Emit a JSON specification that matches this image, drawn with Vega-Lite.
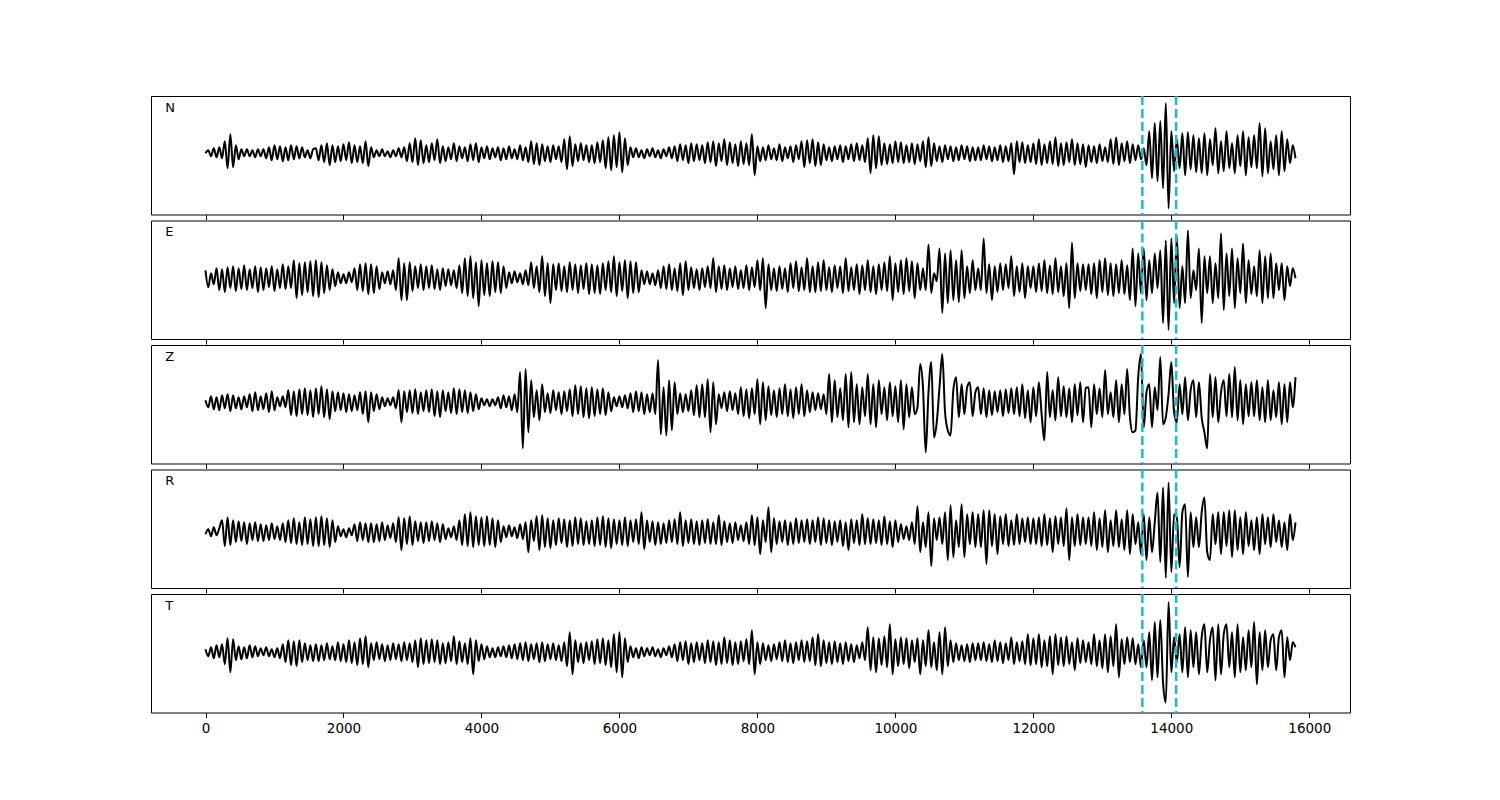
{
"$schema": "https://vega.github.io/schema/vega-lite/v6.json",
"padding": {"left": 150, "top": 94, "right": 0, "bottom": 0},
"background": "white",
"bounds": "flush",
"spacing": 5.5,
"config": {"view": {"stroke": "black", "strokeWidth": 1}, "axis": {"grid": false}, "font": "DejaVu Sans"},
"vconcat": [
{"width": 1199, "height": 118.5, "layer": [
 {"data": {"values": "t,v\n0,0\n40,3\n80,-3\n120,5\n160,-4\n200,6\n240,-5\n280,12\n320,-15\n360,19\n400,-14\n440,8\n480,-6\n520,4\n560,-3\n600,4\n640,-3\n680,3\n720,-4\n760,4\n800,-3\n840,4\n880,-5\n920,6\n960,-7\n1000,8\n1040,-6\n1080,7\n1120,-8\n1160,6\n1200,-7\n1240,8\n1280,-6\n1320,7\n1360,-5\n1400,6\n1440,-4\n1480,3\n1520,-5\n1560,4\n1600,5\n1640,-7\n1680,8\n1720,-9\n1760,10\n1800,-12\n1840,8\n1880,-9\n1920,7\n1960,-8\n2000,9\n2040,-7\n2080,11\n2120,-10\n2160,8\n2200,-9\n2240,7\n2280,-10\n2320,12\n2360,-13\n2400,6\n2440,-4\n2480,3\n2520,-3\n2560,4\n2600,-3\n2640,2\n2680,-4\n2720,3\n2760,-3\n2800,5\n2840,-4\n2880,6\n2920,-8\n2960,10\n3000,-9\n3040,15\n3080,-12\n3120,13\n3160,-10\n3200,8\n3240,-9\n3280,10\n3320,-7\n3360,14\n3400,-10\n3440,7\n3480,-8\n3520,6\n3560,-6\n3600,10\n3640,-8\n3680,7\n3720,-5\n3760,6\n3800,-8\n3840,9\n3880,-7\n3920,10\n3960,-9\n4000,6\n4040,-5\n4080,7\n4120,-6\n4160,5\n4200,-4\n4240,6\n4280,-7\n4320,5\n4360,-6\n4400,7\n4440,-5\n4480,4\n4520,-6\n4560,8\n4600,-7\n4640,6\n4680,-9\n4720,12\n4760,-11\n4800,10\n4840,-12\n4880,9\n4920,-8\n4960,7\n5000,-9\n5040,8\n5080,-6\n5120,7\n5160,-9\n5200,14\n5240,-16\n5280,17\n5320,-13\n5360,9\n5400,-8\n5440,10\n5480,-7\n5520,8\n5560,-9\n5600,8\n5640,-10\n5680,11\n5720,-9\n5760,13\n5800,-15\n5840,16\n5880,-17\n5920,18\n5960,-14\n6000,21\n6040,-19\n6080,15\n6120,-12\n6160,6\n6200,-4\n6240,5\n6280,-4\n6320,3\n6360,-5\n6400,4\n6440,-3\n6480,5\n6520,-4\n6560,3\n6600,-5\n6640,4\n6680,-3\n6720,6\n6760,-5\n6800,7\n6840,-8\n6880,9\n6920,-7\n6960,8\n7000,-10\n7040,10\n7080,-8\n7120,9\n7160,-7\n7200,8\n7240,-10\n7280,11\n7320,-9\n7360,12\n7400,-13\n7440,10\n7480,-8\n7520,14\n7560,-12\n7600,11\n7640,-10\n7680,9\n7720,-13\n7760,12\n7800,-11\n7840,10\n7880,-12\n7920,19\n7960,-22\n8000,7\n8040,-8\n8080,6\n8120,-7\n8160,8\n8200,-6\n8240,5\n8280,-7\n8320,9\n8360,-8\n8400,6\n8440,-5\n8480,7\n8520,-9\n8560,8\n8600,-6\n8640,12\n8680,-14\n8720,13\n8760,-10\n8800,14\n8840,-13\n8880,11\n8920,-12\n8960,9\n9000,-7\n9040,6\n9080,-8\n9120,7\n9160,-6\n9200,8\n9240,-9\n9280,7\n9320,-6\n9360,9\n9400,-8\n9440,10\n9480,-7\n9520,8\n9560,-9\n9600,15\n9640,-20\n9680,18\n9720,-15\n9760,17\n9800,-12\n9840,10\n9880,-11\n9920,9\n9960,-10\n10000,12\n10040,-9\n10080,11\n10120,-10\n10160,8\n10200,-9\n10240,10\n10280,-11\n10320,9\n10360,-8\n10400,12\n10440,-14\n10480,16\n10520,-13\n10560,10\n10600,-8\n10640,7\n10680,-9\n10720,8\n10760,-6\n10800,7\n10840,-8\n10880,6\n10920,-7\n10960,8\n11000,-6\n11040,7\n11080,-8\n11120,6\n11160,-7\n11200,6\n11240,-7\n11280,8\n11320,-6\n11360,7\n11400,-8\n11440,6\n11480,-7\n11520,8\n11560,-9\n11600,7\n11640,-8\n11680,10\n11720,-21\n11760,12\n11800,-9\n11840,11\n11880,-10\n11920,8\n11960,-9\n12000,10\n12040,-11\n12080,14\n12120,-12\n12160,9\n12200,-10\n12240,12\n12280,-11\n12320,16\n12360,-13\n12400,10\n12440,-12\n12480,11\n12520,-9\n12560,14\n12600,-12\n12640,10\n12680,-11\n12720,9\n12760,-14\n12800,8\n12840,-9\n12880,7\n12920,-10\n12960,9\n13000,-8\n13040,6\n13080,-9\n13120,14\n13160,-11\n13200,16\n13240,-12\n13280,10\n13320,-8\n13360,12\n13400,-10\n13440,9\n13480,-7\n13520,8\n13560,-6\n13600,5\n13640,-12\n13680,22\n13720,-25\n13760,30\n13800,-28\n13840,32\n13880,-35\n13920,50\n13960,-55\n14000,22\n14040,-18\n14080,14\n14120,-15\n14160,20\n14200,-22\n14240,21\n14280,-16\n14320,18\n14360,-19\n14400,15\n14440,-20\n14480,20\n14520,-22\n14560,14\n14600,-12\n14640,25\n14680,-20\n14720,12\n14760,-18\n14800,22\n14840,-15\n14880,10\n14920,-20\n14960,18\n15000,-13\n15040,22\n15080,-22\n15120,16\n15160,-14\n15200,18\n15240,-15\n15280,30\n15320,-23\n15360,25\n15400,-20\n15440,12\n15480,-16\n15520,18\n15560,-22\n15600,22\n15640,-18\n15680,14\n15720,-10\n15760,8\n15800,-5", "format": {"type": "csv", "parse": {"t": "number", "v": "number"}}},
  "mark": {"type": "line", "color": "black", "strokeWidth": 2, "interpolate": "monotone", "clip": true},
  "encoding": {
   "x": {"field": "t", "type": "quantitative", "scale": {"domain": [-790, 16590], "nice": false, "zero": false}, "axis": {"title": null, "values": [0,2000,4000,6000,8000,10000,12000,14000,16000], "format": "d", "tickSize": 5, "tickColor": "black", "tickWidth": 1, "domain": false, "grid": false, "labels": false}},
   "y": {"field": "v", "type": "quantitative", "scale": {"domain": [-61, 57], "nice": false, "zero": false}, "axis": null}}},
 {"data": {"values": [{"pick": 13580}, {"pick": 14070}]}, "mark": {"type": "rule", "color": "#17becf", "strokeWidth": 2.5, "strokeDash": [9, 4]}, "encoding": {"x": {"field": "pick", "type": "quantitative"}}},
 {"data": {"values": [{"t": -585, "v": 45, "label": "N"}]}, "mark": {"type": "text", "align": "left", "baseline": "middle", "fontSize": 13, "font": "DejaVu Sans", "color": "black"}, "encoding": {"x": {"field": "t", "type": "quantitative"}, "y": {"field": "v", "type": "quantitative"}, "text": {"field": "label"}}}
]},
{"width": 1199, "height": 118.5, "layer": [
 {"data": {"values": "t,v\n0,8\n40,-9\n80,5\n120,-6\n160,10\n200,-12\n240,9\n280,-14\n320,11\n360,-10\n400,12\n440,-13\n480,10\n520,-11\n560,13\n600,-12\n640,9\n680,-10\n720,12\n760,-14\n800,11\n840,-12\n880,10\n920,-9\n960,12\n1000,-13\n1040,9\n1080,-10\n1120,14\n1160,-11\n1200,12\n1240,-10\n1280,18\n1320,-20\n1360,15\n1400,-17\n1440,16\n1480,-14\n1520,17\n1560,-18\n1600,18\n1640,-19\n1680,16\n1720,-15\n1760,13\n1800,-12\n1840,9\n1880,-8\n1920,6\n1960,-5\n2000,4\n2040,-5\n2080,6\n2120,-4\n2160,10\n2200,-12\n2240,14\n2280,-13\n2320,15\n2360,-16\n2400,14\n2440,-15\n2480,12\n2520,-11\n2560,6\n2600,-5\n2640,7\n2680,-6\n2720,8\n2760,-12\n2800,20\n2840,-22\n2880,15\n2920,-22\n2960,16\n3000,-13\n3040,12\n3080,-10\n3120,14\n3160,-12\n3200,12\n3240,-10\n3280,13\n3320,-11\n3360,9\n3400,-12\n3440,10\n3480,-8\n3520,9\n3560,-7\n3600,8\n3640,-10\n3680,13\n3720,-15\n3760,20\n3800,-18\n3840,22\n3880,-20\n3920,16\n3960,-28\n4000,18\n4040,-17\n4080,15\n4120,-18\n4160,17\n4200,-14\n4240,16\n4280,-15\n4320,12\n4360,-10\n4400,6\n4440,-5\n4480,7\n4520,-4\n4560,5\n4600,-6\n4640,8\n4680,-7\n4720,16\n4760,-10\n4800,12\n4840,-14\n4880,22\n4920,-18\n4960,15\n5000,-25\n5040,14\n5080,-12\n5120,15\n5160,-13\n5200,12\n5240,-14\n5280,16\n5320,-12\n5360,14\n5400,-15\n5440,13\n5480,-11\n5520,15\n5560,-16\n5600,14\n5640,-15\n5680,13\n5720,-16\n5760,15\n5800,-12\n5840,17\n5880,-14\n5920,22\n5960,-18\n6000,16\n6040,-13\n6080,18\n6120,-20\n6160,17\n6200,-15\n6240,16\n6280,-14\n6320,8\n6360,-6\n6400,7\n6440,-6\n6480,5\n6520,-7\n6560,8\n6600,-10\n6640,12\n6680,-11\n6720,14\n6760,-12\n6800,10\n6840,-13\n6880,15\n6920,-17\n6960,17\n7000,-12\n7040,11\n7080,-10\n7120,9\n7160,-12\n7200,10\n7240,-9\n7280,12\n7320,-10\n7360,20\n7400,-14\n7440,12\n7480,-11\n7520,13\n7560,-12\n7600,10\n7640,-9\n7680,12\n7720,-11\n7760,8\n7800,-10\n7840,13\n7880,-12\n7920,11\n7960,-9\n8000,18\n8040,-12\n8080,20\n8120,-30\n8160,14\n8200,-12\n8240,10\n8280,-13\n8320,12\n8360,-11\n8400,10\n8440,-14\n8480,15\n8520,-10\n8560,17\n8600,-13\n8640,11\n8680,-12\n8720,20\n8760,-14\n8800,12\n8840,-14\n8880,16\n8920,-13\n8960,18\n9000,-12\n9040,11\n9080,-14\n9120,13\n9160,-10\n9200,12\n9240,-15\n9280,20\n9320,-13\n9360,11\n9400,-12\n9440,14\n9480,-16\n9520,13\n9560,-12\n9600,18\n9640,-14\n9680,12\n9720,-16\n9760,14\n9800,-12\n9840,16\n9880,-13\n9920,22\n9960,-22\n10000,15\n10040,-14\n10080,18\n10120,-16\n10160,20\n10200,-13\n10240,17\n10280,-20\n10320,15\n10360,-12\n10400,10\n10440,-12\n10480,34\n10520,-15\n10560,5\n10600,-3\n10640,30\n10680,-35\n10720,25\n10760,-25\n10800,28\n10840,-22\n10880,18\n10920,-24\n10960,28\n11000,-20\n11040,12\n11080,-15\n11120,18\n11160,-12\n11200,10\n11240,-12\n11280,40\n11320,-15\n11360,14\n11400,-22\n11440,12\n11480,-14\n11520,15\n11560,-12\n11600,14\n11640,-10\n11680,22\n11720,-18\n11760,12\n11800,-14\n11840,15\n11880,-20\n11920,12\n11960,-10\n12000,12\n12040,-14\n12080,15\n12120,-13\n12160,18\n12200,-15\n12240,13\n12280,-16\n12320,20\n12360,-14\n12400,12\n12440,-18\n12480,15\n12520,-30\n12560,36\n12600,-20\n12640,15\n12680,-13\n12720,14\n12760,-12\n12800,14\n12840,-16\n12880,15\n12920,-20\n12960,18\n13000,-14\n13040,20\n13080,-17\n13120,15\n13160,-18\n13200,14\n13240,-15\n13280,18\n13320,-16\n13360,13\n13400,-22\n13440,30\n13480,-28\n13520,25\n13560,-15\n13600,30\n13640,-22\n13680,18\n13720,-15\n13760,25\n13800,-10\n13840,28\n13880,-45\n13920,38\n13960,-52\n14000,40\n14040,-25\n14080,42\n14120,-30\n14160,12\n14200,-25\n14240,48\n14280,-20\n14320,8\n14360,-12\n14400,30\n14440,-45\n14480,22\n14520,-15\n14560,22\n14600,-25\n14640,15\n14680,-20\n14720,45\n14760,-32\n14800,25\n14840,-18\n14880,30\n14920,-30\n14960,20\n15000,-15\n15040,35\n15080,-25\n15120,18\n15160,-16\n15200,12\n15240,-18\n15280,28\n15320,-25\n15360,22\n15400,-20\n15440,25\n15480,-20\n15520,15\n15560,-12\n15600,15\n15640,-22\n15680,12\n15720,-8\n15760,10\n15800,0", "format": {"type": "csv", "parse": {"t": "number", "v": "number"}}},
  "mark": {"type": "line", "color": "black", "strokeWidth": 2, "interpolate": "monotone", "clip": true},
  "encoding": {
   "x": {"field": "t", "type": "quantitative", "scale": {"domain": [-790, 16590], "nice": false, "zero": false}, "axis": {"title": null, "values": [0,2000,4000,6000,8000,10000,12000,14000,16000], "format": "d", "tickSize": 5, "tickColor": "black", "tickWidth": 1, "domain": false, "grid": false, "labels": false}},
   "y": {"field": "v", "type": "quantitative", "scale": {"domain": [-61, 58], "nice": false, "zero": false}, "axis": null}}},
 {"data": {"values": [{"pick": 13580}, {"pick": 14070}]}, "mark": {"type": "rule", "color": "#17becf", "strokeWidth": 2.5, "strokeDash": [9, 4]}, "encoding": {"x": {"field": "pick", "type": "quantitative"}}},
 {"data": {"values": [{"t": -585, "v": 46, "label": "E"}]}, "mark": {"type": "text", "align": "left", "baseline": "middle", "fontSize": 13, "font": "DejaVu Sans", "color": "black"}, "encoding": {"x": {"field": "t", "type": "quantitative"}, "y": {"field": "v", "type": "quantitative"}, "text": {"field": "label"}}}
]},
{"width": 1199, "height": 118.5, "layer": [
 {"data": {"values": "t,v\n0,2\n40,-5\n80,6\n120,-7\n160,5\n200,-8\n240,7\n280,-6\n320,8\n360,-9\n400,7\n440,-6\n480,5\n520,-7\n560,6\n600,-5\n640,8\n680,-9\n720,10\n760,-8\n800,6\n840,-7\n880,9\n920,-10\n960,11\n1000,-8\n1040,5\n1080,-4\n1120,6\n1160,-5\n1200,12\n1240,-13\n1280,11\n1320,-14\n1360,13\n1400,-12\n1440,14\n1480,-13\n1520,12\n1560,-15\n1600,14\n1640,-12\n1680,16\n1720,-15\n1760,13\n1800,-17\n1840,11\n1880,-9\n1920,10\n1960,-8\n2000,9\n2040,-10\n2080,8\n2120,-9\n2160,7\n2200,-8\n2240,10\n2280,-12\n2320,11\n2360,-20\n2400,10\n2440,-9\n2480,8\n2520,-7\n2560,5\n2600,-4\n2640,4\n2680,-3\n2720,5\n2760,-6\n2800,12\n2840,-20\n2880,11\n2920,-10\n2960,12\n3000,-11\n3040,13\n3080,-12\n3120,10\n3160,-9\n3200,12\n3240,-10\n3280,13\n3320,-14\n3360,11\n3400,-15\n3440,12\n3480,-9\n3520,10\n3560,-11\n3600,14\n3640,-12\n3680,13\n3720,-10\n3760,12\n3800,-11\n3840,10\n3880,-9\n3920,8\n3960,-7\n4000,4\n4040,-3\n4080,3\n4120,-4\n4160,3\n4200,-3\n4240,5\n4280,-6\n4320,7\n4360,-5\n4400,6\n4440,-8\n4480,8\n4520,-10\n4560,30\n4600,-46\n4640,33\n4680,-30\n4720,22\n4760,-15\n4800,12\n4840,-18\n4880,18\n4920,-10\n4960,9\n5000,-11\n5040,12\n5080,-8\n5120,10\n5160,-12\n5200,11\n5240,-9\n5280,13\n5320,-14\n5360,17\n5400,-12\n5440,16\n5480,-15\n5520,14\n5560,-16\n5600,15\n5640,-14\n5680,13\n5720,-12\n5760,14\n5800,-13\n5840,10\n5880,-9\n5920,5\n5960,-4\n6000,6\n6040,-5\n6080,7\n6120,-6\n6160,9\n6200,-10\n6240,11\n6280,-9\n6320,10\n6360,-12\n6400,8\n6440,-10\n6480,9\n6520,-12\n6560,42\n6600,-32\n6640,15\n6680,-33\n6720,22\n6760,-28\n6800,20\n6840,-12\n6880,9\n6920,-10\n6960,8\n7000,-9\n7040,12\n7080,-13\n7120,17\n7160,-15\n7200,18\n7240,-15\n7280,23\n7320,-30\n7360,20\n7400,-22\n7440,8\n7480,-6\n7520,10\n7560,-9\n7600,11\n7640,-8\n7680,9\n7720,-12\n7760,15\n7800,-14\n7840,13\n7880,-16\n7920,14\n7960,-12\n8000,23\n8040,-22\n8080,20\n8120,-18\n8160,16\n8200,-13\n8240,12\n8280,-15\n8320,14\n8360,-12\n8400,18\n8440,-14\n8480,13\n8520,-16\n8560,15\n8600,-12\n8640,18\n8680,-14\n8720,12\n8760,-10\n8800,10\n8840,-8\n8880,9\n8920,-7\n8960,8\n9000,-12\n9040,28\n9080,-20\n9120,22\n9160,-15\n9200,14\n9240,-18\n9280,28\n9320,-25\n9360,30\n9400,-20\n9440,18\n9480,-22\n9520,15\n9560,-14\n9600,28\n9640,-22\n9680,18\n9720,-25\n9760,22\n9800,-12\n9840,15\n9880,-18\n9920,20\n9960,-14\n10000,16\n10040,-20\n10080,22\n10120,-27\n10160,18\n10200,-15\n10240,15\n10280,-12\n10320,-5\n10360,38\n10400,15\n10440,-50\n10480,10\n10520,40\n10560,-35\n10600,-20\n10640,15\n10680,48\n10720,-10\n10760,-28\n10800,-33\n10840,12\n10880,25\n10920,-15\n10960,18\n11000,-12\n11040,15\n11080,20\n11120,-14\n11160,10\n11200,15\n11240,-12\n11280,14\n11320,-15\n11360,12\n11400,-13\n11440,11\n11480,-10\n11520,12\n11560,-14\n11600,13\n11640,-11\n11680,14\n11720,-12\n11760,15\n11800,-14\n11840,18\n11880,-16\n11920,12\n11960,-20\n12000,15\n12040,-14\n12080,20\n12120,-12\n12160,-38\n12200,30\n12240,-15\n12280,12\n12320,-18\n12360,25\n12400,-14\n12440,16\n12480,-15\n12520,14\n12560,-20\n12600,18\n12640,-13\n12680,20\n12720,-20\n12760,14\n12800,15\n12840,-25\n12880,18\n12920,-12\n12960,14\n13000,-15\n13040,32\n13080,-12\n13120,10\n13160,-15\n13200,22\n13240,-20\n13280,18\n13320,-12\n13360,33\n13400,-15\n13440,-30\n13480,-28\n13520,25\n13560,48\n13600,-25\n13640,10\n13680,18\n13720,-25\n13760,15\n13800,-8\n13840,45\n13880,-22\n13920,-15\n13960,8\n14000,40\n14040,-10\n14080,-20\n14120,18\n14160,-12\n14200,25\n14240,-18\n14280,12\n14320,22\n14360,-15\n14400,20\n14440,-15\n14480,-30\n14520,-46\n14560,28\n14600,-15\n14640,25\n14680,-20\n14720,10\n14760,22\n14800,-14\n14840,28\n14880,-15\n14920,35\n14960,-18\n15000,22\n15040,-22\n15080,18\n15120,-14\n15160,20\n15200,-14\n15240,22\n15280,-18\n15320,15\n15360,-20\n15400,22\n15440,-18\n15480,12\n15520,-15\n15560,20\n15600,-22\n15640,18\n15680,-20\n15720,20\n15760,-5\n15800,25", "format": {"type": "csv", "parse": {"t": "number", "v": "number"}}},
  "mark": {"type": "line", "color": "black", "strokeWidth": 2, "interpolate": "monotone", "clip": true},
  "encoding": {
   "x": {"field": "t", "type": "quantitative", "scale": {"domain": [-790, 16590], "nice": false, "zero": false}, "axis": {"title": null, "values": [0,2000,4000,6000,8000,10000,12000,14000,16000], "format": "d", "tickSize": 5, "tickColor": "black", "tickWidth": 1, "domain": false, "grid": false, "labels": false}},
   "y": {"field": "v", "type": "quantitative", "scale": {"domain": [-61, 57], "nice": false, "zero": false}, "axis": null}}},
 {"data": {"values": [{"pick": 13580}, {"pick": 14070}]}, "mark": {"type": "rule", "color": "#17becf", "strokeWidth": 2.5, "strokeDash": [9, 4]}, "encoding": {"x": {"field": "pick", "type": "quantitative"}}},
 {"data": {"values": [{"t": -585, "v": 45, "label": "Z"}]}, "mark": {"type": "text", "align": "left", "baseline": "middle", "fontSize": 13, "font": "DejaVu Sans", "color": "black"}, "encoding": {"x": {"field": "t", "type": "quantitative"}, "y": {"field": "v", "type": "quantitative"}, "text": {"field": "label"}}}
]},
{"width": 1199, "height": 118.5, "layer": [
 {"data": {"values": "t,v\n0,-2\n40,3\n80,-4\n120,5\n160,-3\n200,4\n240,12\n280,-14\n320,15\n360,-13\n400,12\n440,-10\n480,11\n520,-9\n560,10\n600,-12\n640,9\n680,-8\n720,10\n760,-9\n800,8\n840,-9\n880,7\n920,-8\n960,9\n1000,-7\n1040,6\n1080,-8\n1120,9\n1160,-10\n1200,12\n1240,-11\n1280,14\n1320,-12\n1360,10\n1400,-13\n1440,15\n1480,-12\n1520,13\n1560,-14\n1600,15\n1640,-14\n1680,16\n1720,-13\n1760,14\n1800,-15\n1840,12\n1880,-10\n1920,6\n1960,-4\n2000,3\n2040,-5\n2080,4\n2120,-3\n2160,8\n2200,-9\n2240,10\n2280,-8\n2320,9\n2360,-10\n2400,9\n2440,-10\n2480,8\n2520,-9\n2560,10\n2600,-8\n2640,7\n2680,-6\n2720,9\n2760,-10\n2800,15\n2840,-18\n2880,14\n2920,-12\n2960,16\n3000,-13\n3040,11\n3080,-9\n3120,10\n3160,-11\n3200,10\n3240,-9\n3280,11\n3320,-8\n3360,9\n3400,-10\n3440,8\n3480,-7\n3520,4\n3560,-5\n3600,6\n3640,-8\n3680,12\n3720,-13\n3760,18\n3800,-14\n3840,20\n3880,-15\n3920,16\n3960,-13\n4000,15\n4040,-14\n4080,16\n4120,-13\n4160,14\n4200,-15\n4240,12\n4280,-10\n4320,6\n4360,-5\n4400,7\n4440,-4\n4480,5\n4520,-6\n4560,8\n4600,-7\n4640,10\n4680,-20\n4720,12\n4760,-9\n4800,16\n4840,-18\n4880,17\n4920,-15\n4960,14\n5000,-16\n5040,12\n5080,-13\n5120,14\n5160,-11\n5200,13\n5240,-15\n5280,12\n5320,-14\n5360,15\n5400,-12\n5440,14\n5480,-13\n5520,11\n5560,-12\n5600,12\n5640,-14\n5680,15\n5720,-13\n5760,16\n5800,-15\n5840,14\n5880,-16\n5920,13\n5960,-12\n6000,12\n6040,-13\n6080,15\n6120,-14\n6160,12\n6200,-10\n6240,13\n6280,-12\n6320,20\n6360,-17\n6400,12\n6440,-10\n6480,11\n6520,-13\n6560,10\n6600,-12\n6640,9\n6680,-11\n6720,12\n6760,-10\n6800,13\n6840,-12\n6880,20\n6920,-14\n6960,12\n7000,-11\n7040,13\n7080,-12\n7120,11\n7160,-13\n7200,12\n7240,-11\n7280,13\n7320,-12\n7360,10\n7400,-12\n7440,17\n7480,-13\n7520,11\n7560,-10\n7600,9\n7640,-11\n7680,10\n7720,-8\n7760,7\n7800,-9\n7840,10\n7880,-12\n7920,17\n7960,-13\n8000,15\n8040,-22\n8080,12\n8120,-10\n8160,25\n8200,-20\n8240,14\n8280,-12\n8320,11\n8360,-10\n8400,12\n8440,-13\n8480,10\n8520,-12\n8560,14\n8600,-11\n8640,12\n8680,-10\n8720,13\n8760,-12\n8800,12\n8840,-10\n8880,15\n8920,-13\n8960,14\n9000,-11\n9040,12\n9080,-13\n9120,11\n9160,-10\n9200,12\n9240,-14\n9280,10\n9320,-18\n9360,13\n9400,-11\n9440,12\n9480,-13\n9520,18\n9560,-12\n9600,14\n9640,-12\n9680,13\n9720,-11\n9760,12\n9800,-13\n9840,16\n9880,-12\n9920,11\n9960,-15\n10000,12\n10040,-10\n10080,8\n10120,-7\n10160,6\n10200,-8\n10240,10\n10280,-12\n10320,26\n10360,-20\n10400,10\n10440,-15\n10480,20\n10520,-34\n10560,14\n10600,-8\n10640,15\n10680,-12\n10720,20\n10760,-28\n10800,27\n10840,-25\n10880,12\n10920,-15\n10960,28\n11000,-25\n11040,18\n11080,-12\n11120,20\n11160,-15\n11200,18\n11240,-15\n11280,22\n11320,-32\n11360,22\n11400,-14\n11440,18\n11480,-22\n11520,16\n11560,-12\n11600,18\n11640,-14\n11680,12\n11720,-13\n11760,18\n11800,-12\n11840,14\n11880,-10\n11920,15\n11960,-12\n12000,14\n12040,-12\n12080,15\n12120,-14\n12160,18\n12200,-13\n12240,14\n12280,-20\n12320,16\n12360,-12\n12400,15\n12440,-14\n12480,24\n12520,-28\n12560,15\n12600,-14\n12640,18\n12680,-13\n12720,15\n12760,-12\n12800,15\n12840,-14\n12880,20\n12920,-18\n12960,14\n13000,-15\n13040,22\n13080,-20\n13120,12\n13160,-14\n13200,22\n13240,-15\n13280,13\n13320,-18\n13360,22\n13400,-22\n13440,18\n13480,-12\n13520,10\n13560,-22\n13600,18\n13640,-28\n13680,15\n13720,-20\n13760,10\n13800,40\n13840,-30\n13880,45\n13920,-46\n13960,50\n14000,-40\n14040,18\n14080,15\n14120,-35\n14160,20\n14200,28\n14240,-45\n14280,20\n14320,-15\n14360,15\n14400,-15\n14440,20\n14480,35\n14520,-20\n14560,-28\n14600,18\n14640,-12\n14680,20\n14720,-22\n14760,20\n14800,-14\n14840,22\n14880,-25\n14920,22\n14960,-18\n15000,15\n15040,-22\n15080,20\n15120,-14\n15160,12\n15200,-18\n15240,15\n15280,-22\n15320,18\n15360,-12\n15400,15\n15440,-15\n15480,18\n15520,-10\n15560,12\n15600,-15\n15640,10\n15680,-18\n15720,18\n15760,-8\n15800,10", "format": {"type": "csv", "parse": {"t": "number", "v": "number"}}},
  "mark": {"type": "line", "color": "black", "strokeWidth": 2, "interpolate": "monotone", "clip": true},
  "encoding": {
   "x": {"field": "t", "type": "quantitative", "scale": {"domain": [-790, 16590], "nice": false, "zero": false}, "axis": {"title": null, "values": [0,2000,4000,6000,8000,10000,12000,14000,16000], "format": "d", "tickSize": 5, "tickColor": "black", "tickWidth": 1, "domain": false, "grid": false, "labels": false}},
   "y": {"field": "v", "type": "quantitative", "scale": {"domain": [-56, 63], "nice": false, "zero": false}, "axis": null}}},
 {"data": {"values": [{"pick": 13580}, {"pick": 14070}]}, "mark": {"type": "rule", "color": "#17becf", "strokeWidth": 2.5, "strokeDash": [9, 4]}, "encoding": {"x": {"field": "pick", "type": "quantitative"}}},
 {"data": {"values": [{"t": -585, "v": 51, "label": "R"}]}, "mark": {"type": "text", "align": "left", "baseline": "middle", "fontSize": 13, "font": "DejaVu Sans", "color": "black"}, "encoding": {"x": {"field": "t", "type": "quantitative"}, "y": {"field": "v", "type": "quantitative"}, "text": {"field": "label"}}}
]},
{"width": 1199, "height": 118.5, "layer": [
 {"data": {"values": "t,v\n0,3\n40,-4\n80,5\n120,-6\n160,7\n200,-5\n240,8\n280,-12\n320,14\n360,-20\n400,13\n440,-8\n480,6\n520,-7\n560,5\n600,-6\n640,7\n680,-5\n720,6\n760,-4\n800,4\n840,-3\n880,5\n920,-4\n960,3\n1000,-5\n1040,4\n1080,-6\n1120,8\n1160,-10\n1200,12\n1240,-13\n1280,11\n1320,-14\n1360,12\n1400,-10\n1440,9\n1480,-8\n1520,7\n1560,-9\n1600,8\n1640,-9\n1680,7\n1720,-8\n1760,9\n1800,-7\n1840,6\n1880,-8\n1920,10\n1960,-9\n2000,8\n2040,-10\n2080,12\n2120,-11\n2160,10\n2200,-13\n2240,14\n2280,-12\n2320,16\n2360,-15\n2400,9\n2440,-8\n2480,10\n2520,-7\n2560,8\n2600,-9\n2640,7\n2680,-8\n2720,9\n2760,-7\n2800,8\n2840,-9\n2880,10\n2920,-8\n2960,9\n3000,-10\n3040,12\n3080,-15\n3120,14\n3160,-12\n3200,12\n3240,-11\n3280,13\n3320,-10\n3360,12\n3400,-12\n3440,9\n3480,-11\n3520,10\n3560,-9\n3600,16\n3640,-12\n3680,11\n3720,-10\n3760,9\n3800,-12\n3840,14\n3880,-22\n3920,12\n3960,-9\n4000,8\n4040,-7\n4080,6\n4120,-5\n4160,4\n4200,-5\n4240,5\n4280,-4\n4320,6\n4360,-5\n4400,7\n4440,-6\n4480,8\n4520,-7\n4560,9\n4600,-8\n4640,10\n4680,-9\n4720,8\n4760,-7\n4800,9\n4840,-10\n4880,10\n4920,-9\n4960,8\n5000,-7\n5040,9\n5080,-8\n5120,7\n5160,-9\n5200,10\n5240,-14\n5280,20\n5320,-22\n5360,12\n5400,-10\n5440,9\n5480,-11\n5520,10\n5560,-8\n5600,11\n5640,-12\n5680,13\n5720,-11\n5760,14\n5800,-13\n5840,12\n5880,-15\n5920,18\n5960,-20\n6000,20\n6040,-25\n6080,14\n6120,-10\n6160,6\n6200,-5\n6240,4\n6280,-6\n6320,5\n6360,-4\n6400,4\n6440,-3\n6480,5\n6520,-4\n6560,3\n6600,-5\n6640,4\n6680,-3\n6720,6\n6760,-5\n6800,8\n6840,-9\n6880,10\n6920,-8\n6960,11\n7000,-12\n7040,9\n7080,-10\n7120,10\n7160,-8\n7200,9\n7240,-11\n7280,12\n7320,-10\n7360,11\n7400,-13\n7440,10\n7480,-12\n7520,15\n7560,-11\n7600,12\n7640,-13\n7680,10\n7720,-12\n7760,11\n7800,-9\n7840,13\n7880,-12\n7920,22\n7960,-22\n8000,10\n8040,-12\n8080,9\n8120,-8\n8160,7\n8200,-9\n8240,8\n8280,-7\n8320,10\n8360,-9\n8400,12\n8440,-10\n8480,9\n8520,-11\n8560,10\n8600,-8\n8640,12\n8680,-10\n8720,11\n8760,-9\n8800,15\n8840,-13\n8880,18\n8920,-14\n8960,12\n9000,-11\n9040,10\n9080,-12\n9120,11\n9160,-10\n9200,9\n9240,-12\n9280,10\n9320,-9\n9360,8\n9400,-10\n9440,7\n9480,-6\n9520,10\n9560,-8\n9600,25\n9640,-18\n9680,15\n9720,-20\n9760,14\n9800,-13\n9840,16\n9880,-15\n9920,28\n9960,-22\n10000,13\n10040,-14\n10080,15\n10120,-12\n10160,14\n10200,-16\n10240,12\n10280,-10\n10320,14\n10360,-22\n10400,12\n10440,-14\n10480,22\n10520,-15\n10560,10\n10600,-18\n10640,20\n10680,-22\n10720,25\n10760,-14\n10800,12\n10840,-10\n10880,9\n10920,-8\n10960,7\n11000,-9\n11040,8\n11080,-10\n11120,9\n11160,-8\n11200,9\n11240,-8\n11280,10\n11320,-9\n11360,8\n11400,-10\n11440,12\n11480,-9\n11520,10\n11560,-11\n11600,9\n11640,-8\n11680,15\n11720,-12\n11760,10\n11800,-9\n11840,11\n11880,-12\n11920,18\n11960,-13\n12000,14\n12040,-12\n12080,18\n12120,-15\n12160,12\n12200,-14\n12240,16\n12280,-22\n12320,18\n12360,-13\n12400,15\n12440,-14\n12480,16\n12520,-12\n12560,10\n12600,-18\n12640,14\n12680,-11\n12720,12\n12760,-10\n12800,10\n12840,-12\n12880,18\n12920,-14\n12960,12\n13000,-16\n13040,18\n13080,-20\n13120,16\n13160,-14\n13200,28\n13240,-25\n13280,13\n13320,-12\n13360,15\n13400,-10\n13440,14\n13480,-12\n13520,8\n13560,-15\n13600,12\n13640,-15\n13680,20\n13720,-28\n13760,30\n13800,-25\n13840,32\n13880,-30\n13920,-50\n13960,50\n14000,-20\n14040,15\n14080,-10\n14120,18\n14160,-20\n14200,25\n14240,-25\n14280,22\n14320,-15\n14360,20\n14400,-22\n14440,15\n14480,28\n14520,-20\n14560,12\n14600,25\n14640,-28\n14680,28\n14720,-22\n14760,18\n14800,28\n14840,-15\n14880,20\n14920,-25\n14960,28\n15000,-20\n15040,15\n15080,-18\n15120,22\n15160,-15\n15200,30\n15240,-32\n15280,20\n15320,-18\n15360,22\n15400,-15\n15440,12\n15480,18\n15520,-18\n15560,15\n15600,22\n15640,-25\n15680,15\n15720,-8\n15760,10\n15800,5", "format": {"type": "csv", "parse": {"t": "number", "v": "number"}}},
  "mark": {"type": "line", "color": "black", "strokeWidth": 2, "interpolate": "monotone", "clip": true},
  "encoding": {
   "x": {"field": "t", "type": "quantitative", "scale": {"domain": [-790, 16590], "nice": false, "zero": false}, "axis": {"title": null, "values": [0,2000,4000,6000,8000,10000,12000,14000,16000], "format": "d", "tickSize": 5, "tickColor": "black", "tickWidth": 1, "domain": false, "grid": false, "labels": true, "labelFontSize": 13.5, "labelFont": "DejaVu Sans", "labelColor": "black", "labelPadding": 4, "labelFlush": false}},
   "y": {"field": "v", "type": "quantitative", "scale": {"domain": [-60, 58], "nice": false, "zero": false}, "axis": null}}},
 {"data": {"values": [{"pick": 13580}, {"pick": 14070}]}, "mark": {"type": "rule", "color": "#17becf", "strokeWidth": 2.5, "strokeDash": [9, 4]}, "encoding": {"x": {"field": "pick", "type": "quantitative"}}},
 {"data": {"values": [{"t": -585, "v": 46, "label": "T"}]}, "mark": {"type": "text", "align": "left", "baseline": "middle", "fontSize": 13, "font": "DejaVu Sans", "color": "black"}, "encoding": {"x": {"field": "t", "type": "quantitative"}, "y": {"field": "v", "type": "quantitative"}, "text": {"field": "label"}}}
]}
]
}
